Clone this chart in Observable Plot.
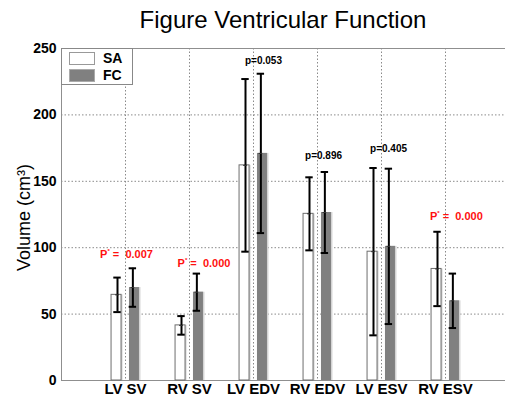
<!DOCTYPE html>
<html><head><meta charset="utf-8">
<script src="https://cdn.jsdelivr.net/npm/d3@7"></script>
<script src="https://cdn.jsdelivr.net/npm/@observablehq/plot@0.6"></script>
<style>
body{margin:0;background:#fff;font-family:"Liberation Sans",Arial,sans-serif;}
#wrap{position:relative;width:505px;height:398px;overflow:hidden;}
#title{height:40px;line-height:40px;padding-left:61px;width:444px;text-align:center;font-size:24px;color:#000;}
</style></head><body>
<div id="wrap"><div id="title">Figure Ventricular Function</div><div id="chart"></div></div>
<script>
const categories = ["LV SV", "RV SV", "LV EDV", "RV EDV", "LV ESV", "RV ESV"];
const groups = ["SA", "FC"];
const saMean = [64.5, 41.5, 162, 125.5, 97, 84];
const saErr  = [13, 7, 65, 27.5, 63, 28];
const fcMean = [70, 66.5, 171, 126.5, 101, 60];
const fcErr  = [14.5, 14, 60, 30.5, 58.5, 20.5];
const pLabels = ["P* =  0.007", "P* =  0.000", "p=0.053", "p=0.896", "p=0.405", "P* =  0.000"];
const pSignificant = [true, true, false, false, false, true];
const pLabelX = [1.016, 2.227, 3.156, 4.094, 5.11, 6.17];
const pLabelY = [94.9, 88.1, 241, 169.4, 174.7, 123.5];
const yTicks = [0, 50, 100, 150, 200, 250];

const rows = [];
categories.forEach((c, k) => {
  rows.push({cat: c, i: k + 1, group: "SA", mean: saMean[k], err: saErr[k], off: -0.14, eoff: -0.125});
  rows.push({cat: c, i: k + 1, group: "FC", mean: fcMean[k], err: fcErr[k], off: 0.14, eoff: 0.115});
});
const ann = pLabels.map((t, k) => ({text: t, x: pLabelX[k], y: pLabelY[k], sig: pSignificant[k]}));
const caps = rows.flatMap(d => [d.mean - d.err, d.mean + d.err].map(v => ({...d, v})));
const hw = 0.078, cw = 0.058;
const sa = rows.filter(d => d.group === "SA"), fc = rows.filter(d => d.group === "FC");

const chart = Plot.plot({
  width: 505, height: 358, marginTop: 8, marginBottom: 18, marginLeft: 61, marginRight: 0,
  style: {fontFamily: "Liberation Sans, Arial, sans-serif", background: "#fff", color: "#000", overflow: "visible"},
  x: {domain: [0, (505 - 61) / 64], axis: null},
  y: {domain: [0, 250], axis: null},
  marks: [
    Plot.ruleY(yTicks.slice(1, -1), {stroke: "#8a8a8a", strokeDasharray: "1.5,2"}),
    Plot.ruleX(d3.range(1, categories.length + 1), {stroke: "#8a8a8a", strokeDasharray: "1.5,2"}),
    Plot.ruleY([0, 250], {stroke: "#8f8f8f"}),
    Plot.ruleX([0], {stroke: "#8f8f8f"}),
    Plot.rectY(rows, {x1: d => d.i + d.off - hw, x2: d => d.i + d.off + hw, y1: 0, y2: d => d.mean, fill: "#d4d4d4", dx: 1.5}),
    Plot.rectY(sa, {x1: d => d.i + d.off - hw, x2: d => d.i + d.off + hw, y1: 0, y2: d => d.mean, fill: "#fff", stroke: "#6e6e6e", strokeWidth: 1}),
    Plot.rectY(fc, {x1: d => d.i + d.off - hw, x2: d => d.i + d.off + hw, y1: 0, y2: d => d.mean, fill: "#808080"}),
    Plot.ruleX(rows, {x: d => d.i + d.eoff, y1: d => d.mean - d.err, y2: d => d.mean + d.err, stroke: "#000", strokeWidth: 2}),
    Plot.ruleY(caps, {y: "v", x1: d => d.i + d.eoff - cw, x2: d => d.i + d.eoff + cw, stroke: "#000", strokeWidth: 2}),
    Plot.ruleY(rows, {y: "mean", x1: d => d.i + d.eoff - 0.03, x2: d => d.i + d.eoff + 0.03, stroke: "#333", strokeWidth: 1}),
    Plot.text(ann.filter(d => !d.sig), {x: "x", y: "y", text: "text", fill: "#000", fontSize: 10, fontWeight: "bold"}),
    Plot.text(ann.filter(d => d.sig), {x: "x", y: "y", text: "text", fill: "#ff1010", fontSize: 11, fontWeight: "bold", className: "sigp"}),
    Plot.axisY({ticks: yTicks, tickSize: 0, tickPadding: 5, fontSize: 14, fontWeight: "bold", label: null}),
    Plot.axisX({ticks: d3.range(1, categories.length + 1), tickFormat: d => categories[d - 1], tickSize: 0, tickPadding: 3, fontSize: 15, fontWeight: "bold", label: null}),
    Plot.text(["Volume (cm³)"], {text: d => d, frameAnchor: "left", textAnchor: "middle", lineAnchor: "middle", rotate: -90, dx: -37, dy: 3, fontSize: 18})
  ]
});
document.getElementById("chart").appendChild(chart);

d3.select(chart).selectAll(".sigp text").each(function () {
  const t = this.textContent;
  const rest = t.replace(/^P\*/, "");
  const sel = d3.select(this);
  sel.text(null);
  sel.append("tspan").text("P");
  sel.append("tspan").attr("font-size", 6).attr("dy", -5).text("*");
  sel.append("tspan").attr("dy", 5).text(rest);
});

const lg = d3.select(chart).append("g").attr("font-family", "Liberation Sans, Arial, sans-serif").attr("text-anchor", "start");
lg.append("rect").attr("x", 61.5).attr("y", 8.5).attr("width", 71).attr("height", 36).attr("fill", "#fff").attr("stroke", "#888");
lg.append("rect").attr("x", 69.5).attr("y", 12.5).attr("width", 25).attr("height", 12).attr("fill", "#fff").attr("stroke", "#999");
lg.append("rect").attr("x", 69.5).attr("y", 29.5).attr("width", 25).attr("height", 12).attr("fill", "#808080").attr("stroke", "#aaa");
groups.forEach((g, k) => {
  lg.append("text").attr("x", 103).attr("y", 18.5 + k * 17).attr("dy", "0.35em").attr("font-size", 14).attr("font-weight", "bold").text(g);
});
</script>
</body></html>
